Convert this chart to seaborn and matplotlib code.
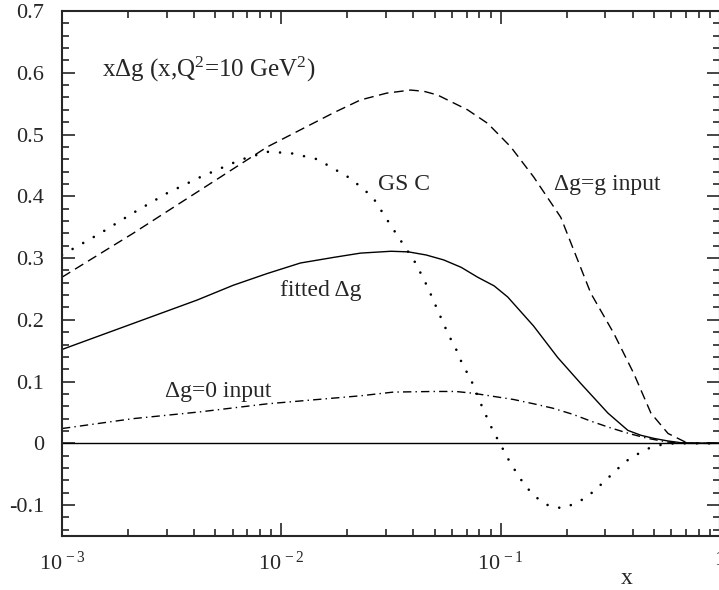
import numpy as np
import matplotlib
matplotlib.use('Agg')
import matplotlib.pyplot as plt
import seaborn as sns
from matplotlib.ticker import MultipleLocator, FixedLocator, FixedFormatter, LogLocator, NullFormatter

# curves, x as log10(x)
fit_logx = [-3.0, -2.384, -2.219, -2.064, -1.913, -1.763, -1.639, -1.5, -1.42, -1.34, -1.26, -1.18,
            -1.105, -1.03, -0.968, -0.85, -0.74, -0.635, -0.56, -0.511, -0.42, -0.36, -0.301,
            -0.24, -0.178, 0.0]
fit_y = [0.152, 0.232, 0.256, 0.275, 0.292, 0.301, 0.308, 0.311, 0.31, 0.305, 0.297, 0.285,
         0.269, 0.255, 0.237, 0.19, 0.139, 0.097, 0.068, 0.049, 0.021, 0.013, 0.008,
         0.004, 0.001, 0.0]

gin_logx = [-3.0, -2.676, -2.37, -2.064, -1.763, -1.639, -1.52, -1.411, -1.35, -1.288, -1.151,
            -1.059, -0.954, -0.849, -0.726, -0.589, -0.484, -0.393, -0.315, -0.237, -0.146, 0.0]
gin_y = [0.269, 0.34, 0.41, 0.48, 0.535, 0.556, 0.567, 0.572, 0.57, 0.564, 0.54,
         0.518, 0.48, 0.431, 0.366, 0.243, 0.178, 0.113, 0.049, 0.016, 0.0, 0.0]

gsc_logx = [-3.0, -2.826, -2.676, -2.521, -2.37, -2.187, -2.064, -1.959, -1.836, -1.685, -1.584,
            -1.516, -1.457, -1.388, -1.333, -1.283, -1.237, -1.205, -1.183, -1.128, -1.082,
            -1.032, -1.0, -0.973, -0.941, -0.909, -0.872, -0.826, -0.776, -0.717, -0.658,
            -0.607, -0.562, -0.516, -0.475, -0.429, -0.379, -0.324, -0.265, -0.21, 0.0]
gsc_y = [0.305, 0.34, 0.373, 0.405, 0.431, 0.459, 0.472, 0.47, 0.46, 0.429, 0.399,
         0.361, 0.329, 0.292, 0.253, 0.212, 0.175, 0.154, 0.135, 0.097, 0.057,
         0.018, -0.002, -0.021, -0.04, -0.058, -0.075, -0.091, -0.102, -0.105, -0.097,
         -0.087, -0.073, -0.058, -0.044, -0.029, -0.018, -0.008, -0.002, 0.0, 0.0]

g0_logx = [-3.0, -2.676, -2.37, -2.064, -1.639, -1.489, -1.306, -1.205, -1.123, -1.032, -0.941,
           -0.849, -0.763, -0.671, -0.589, -0.507, -0.416, -0.329, -0.237, -0.146, 0.0]
g0_y = [0.024, 0.04, 0.051, 0.064, 0.077, 0.083, 0.084, 0.084, 0.081, 0.076, 0.071,
        0.064, 0.057, 0.047, 0.036, 0.026, 0.016, 0.008, 0.002, 0.0, 0.0]

ytick_vals = [-0.1, 0.0, 0.1, 0.2, 0.3, 0.4, 0.5, 0.6, 0.7]
ytick_text = ['-0.1', '0', '0.1', '0.2', '0.3', '0.4', '0.5', '0.6', '0.7']
xtick_vals = [1e-3, 1e-2, 1e-1, 1.0]
xtick_text = ['10$^{\\,-3}$', '10$^{\\,-2}$', '10$^{\\,-1}$', '1']

sns.set_style('ticks')
plt.rcParams['font.family'] = ['Liberation Serif', 'DejaVu Serif']
plt.rcParams['mathtext.fontset'] = 'custom'
plt.rcParams['mathtext.rm'] = 'Liberation Serif'
plt.rcParams['mathtext.it'] = 'Liberation Serif:italic'
plt.rcParams['axes.unicode_minus'] = False

fig = plt.figure(figsize=(7.19, 5.90), dpi=100)
ax = fig.add_axes([62 / 719, 54 / 590, 658 / 719, 525 / 590])

def xs(logx):
    return [10 ** v for v in logx]

ax.axhline(0, color='black', lw=1.0)
sns.lineplot(x=xs(fit_logx), y=fit_y, ax=ax, color='black', lw=1.0, linestyle='-')
sns.lineplot(x=xs(gin_logx), y=gin_y, ax=ax, color='black', lw=1.0, linestyle=(0, (7, 4)))
sns.lineplot(x=xs(gsc_logx), y=gsc_y, ax=ax, color='black', lw=1.9,
             linestyle=(0, (0.01, 4.6)), dash_capstyle='round')
sns.lineplot(x=xs(g0_logx), y=g0_y, ax=ax, color='black', lw=1.0, linestyle=(0, (6, 3, 1, 3)))

ax.set_xscale('log')
ax.set_xlim(1e-3, 1)
ax.set_ylim(-0.15, 0.7)

ax.xaxis.set_major_locator(FixedLocator(xtick_vals))
ax.xaxis.set_major_formatter(FixedFormatter(xtick_text))
ax.xaxis.set_minor_locator(LogLocator(base=10, subs=np.arange(2, 10)))
ax.xaxis.set_minor_formatter(NullFormatter())
ax.yaxis.set_major_locator(FixedLocator(ytick_vals))
ax.yaxis.set_major_formatter(FixedFormatter(ytick_text))
ax.yaxis.set_minor_locator(MultipleLocator(0.02))

ax.tick_params(which='both', direction='in', top=True, right=True, labelsize=16, width=1.2)
ax.tick_params(which='major', length=9.5)
ax.tick_params(which='minor', length=4.7)
ax.tick_params(axis='y', pad=13)
ax.tick_params(axis='x', pad=11)
for s in ax.spines.values():
    s.set_linewidth(1.5)

ax.set_xlabel('x', fontsize=17)
ax.xaxis.set_label_coords(0.858, -0.06)
ax.set_ylabel('')

lab = dict(transform=ax.transAxes, fontsize=17, va='center')
ax.text(0.061, 0.888, 'x\u0394g (x,Q$^2$=10 GeV$^2$)', ha='left',
        transform=ax.transAxes, fontsize=18, va='center')
ax.text(0.5205, 0.6686, 'GS C', ha='center', **lab)
ax.text(0.828, 0.6686, '\u0394g=g input', ha='center', **lab)
ax.text(0.3927, 0.4667, 'fitted \u0394g', ha='center', **lab)
ax.text(0.2374, 0.2743, '\u0394g=0 input', ha='center', **lab)

fig.savefig('out.png', dpi=100)
